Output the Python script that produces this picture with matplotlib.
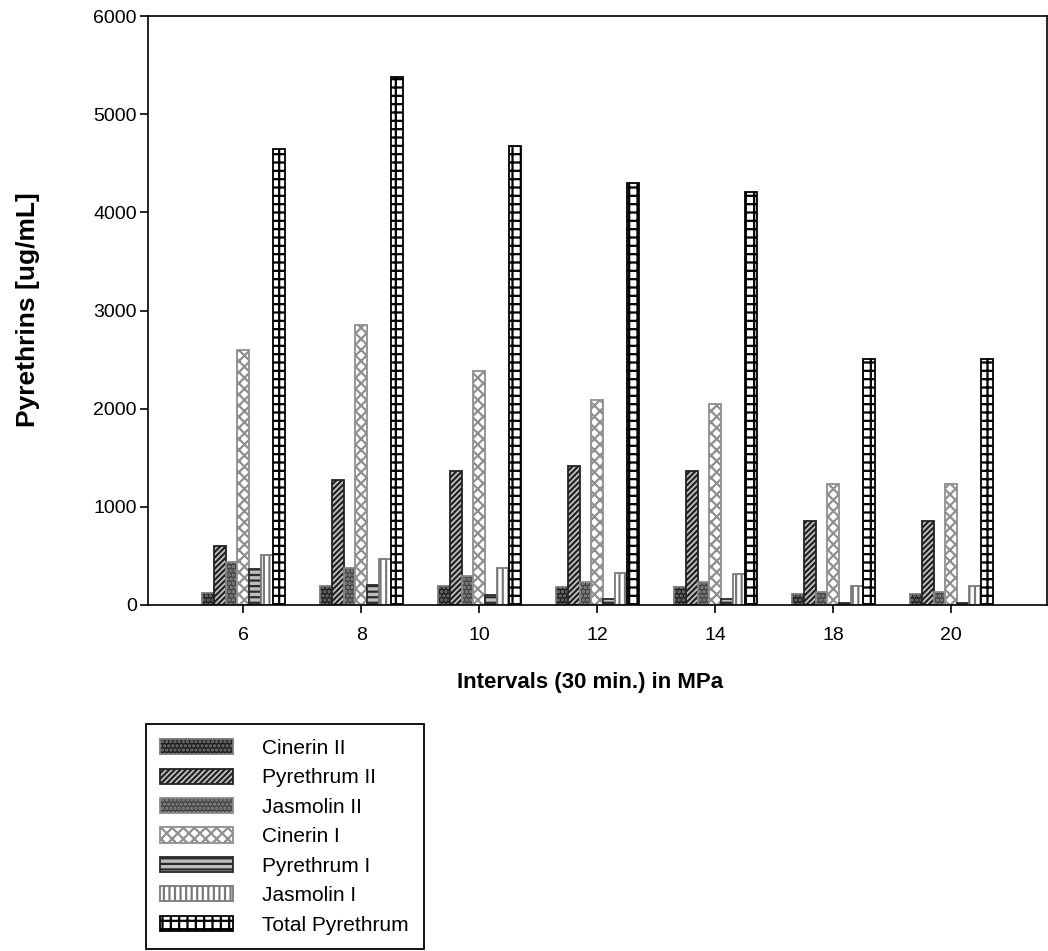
import numpy as np
from matplotlib import pyplot as plt

pressures = ["6", "8", "10", "12", "14", "18", "20"]

series_names = [
    "Cinerin II",
    "Pyrethrum II",
    "Jasmolin II",
    "Cinerin I",
    "Pyrethrum I",
    "Jasmolin I",
    "Total Pyrethrum",
]

cinerin_2 = [120, 190, 190, 180, 180, 110, 110]
pyrethrum_2 = [600, 1270, 1360, 1420, 1360, 850, 850]
jasmolin_2 = [440, 380, 290, 230, 230, 130, 130]
cinerin_1 = [2600, 2850, 2380, 2090, 2050, 1230, 1230]
pyrethrum_1 = [370, 200, 100, 60, 60, 20, 20]
jasmolin_1 = [510, 470, 380, 320, 310, 190, 190]
total_pyrethrum = [4650, 5380, 4680, 4300, 4210, 2510, 2510]

y_ticks = [0, 1000, 2000, 3000, 4000, 5000, 6000]

styles = [
    dict(facecolor="#1e1e1e", hatch="....", edgecolor="#7a7a7a"),
    dict(facecolor="#c8c8c8", hatch="//////", edgecolor="#222222"),
    dict(facecolor="#444444", hatch="....", edgecolor="#8a8a8a"),
    dict(facecolor="white", hatch="xxx", edgecolor="#8f8f8f"),
    dict(facecolor="#bdbdbd", hatch="---", edgecolor="#2a2a2a"),
    dict(facecolor="white", hatch="|||", edgecolor="#7a7a7a"),
    dict(facecolor="white", hatch="++", edgecolor="black"),
]

plt.rcParams["font.family"] = ["Liberation Sans", "DejaVu Sans"]
plt.rcParams["hatch.linewidth"] = 1.6

fig = plt.figure(figsize=(10.48, 9.51), dpi=100)
ax = fig.add_axes([0.141, 0.364, 0.858, 0.619])

all_series = [cinerin_2, pyrethrum_2, jasmolin_2, cinerin_1,
              pyrethrum_1, jasmolin_1, total_pyrethrum]
x = np.arange(len(pressures))
width = 0.1

handles = []
for i, (name, values, style) in enumerate(zip(series_names, all_series, styles)):
    bars = ax.bar(x + (i - 3) * width, values, width=width, label=name,
                  linewidth=1.3, **style)
    handles.append(bars)

ax.set_xlim(-0.81, len(pressures) - 1 + 0.81)
ax.set_ylim(0, 6000)
ax.set_xticks(x)
ax.set_xticklabels(pressures)
ax.set_yticks(y_ticks)
ax.tick_params(labelsize=14, length=6, width=1.2)
ax.tick_params(axis="y", pad=2)
ax.tick_params(axis="x", pad=10)
for spine in ax.spines.values():
    spine.set_linewidth(1.2)

fig.text(0.027, 0.674, "Pyrethrins [ug/mL]", rotation=90, fontsize=19,
         fontweight="bold", ha="center", va="center")
fig.text(0.563, 0.282, "Intervals (30 min.) in MPa", fontsize=16,
         fontweight="bold", ha="center", va="center")

leg = fig.legend(handles=handles, loc="lower left",
                 bbox_to_anchor=(0.139, 0.002), fontsize=15,
                 handlelength=3.5, handleheight=0.75, labelspacing=0.5,
                 handletextpad=1.4, borderpad=0.7, borderaxespad=0.0,
                 fancybox=False, edgecolor="black", framealpha=1)
leg.get_frame().set_linewidth(1.3)

fig.savefig("out.png", dpi=100)
